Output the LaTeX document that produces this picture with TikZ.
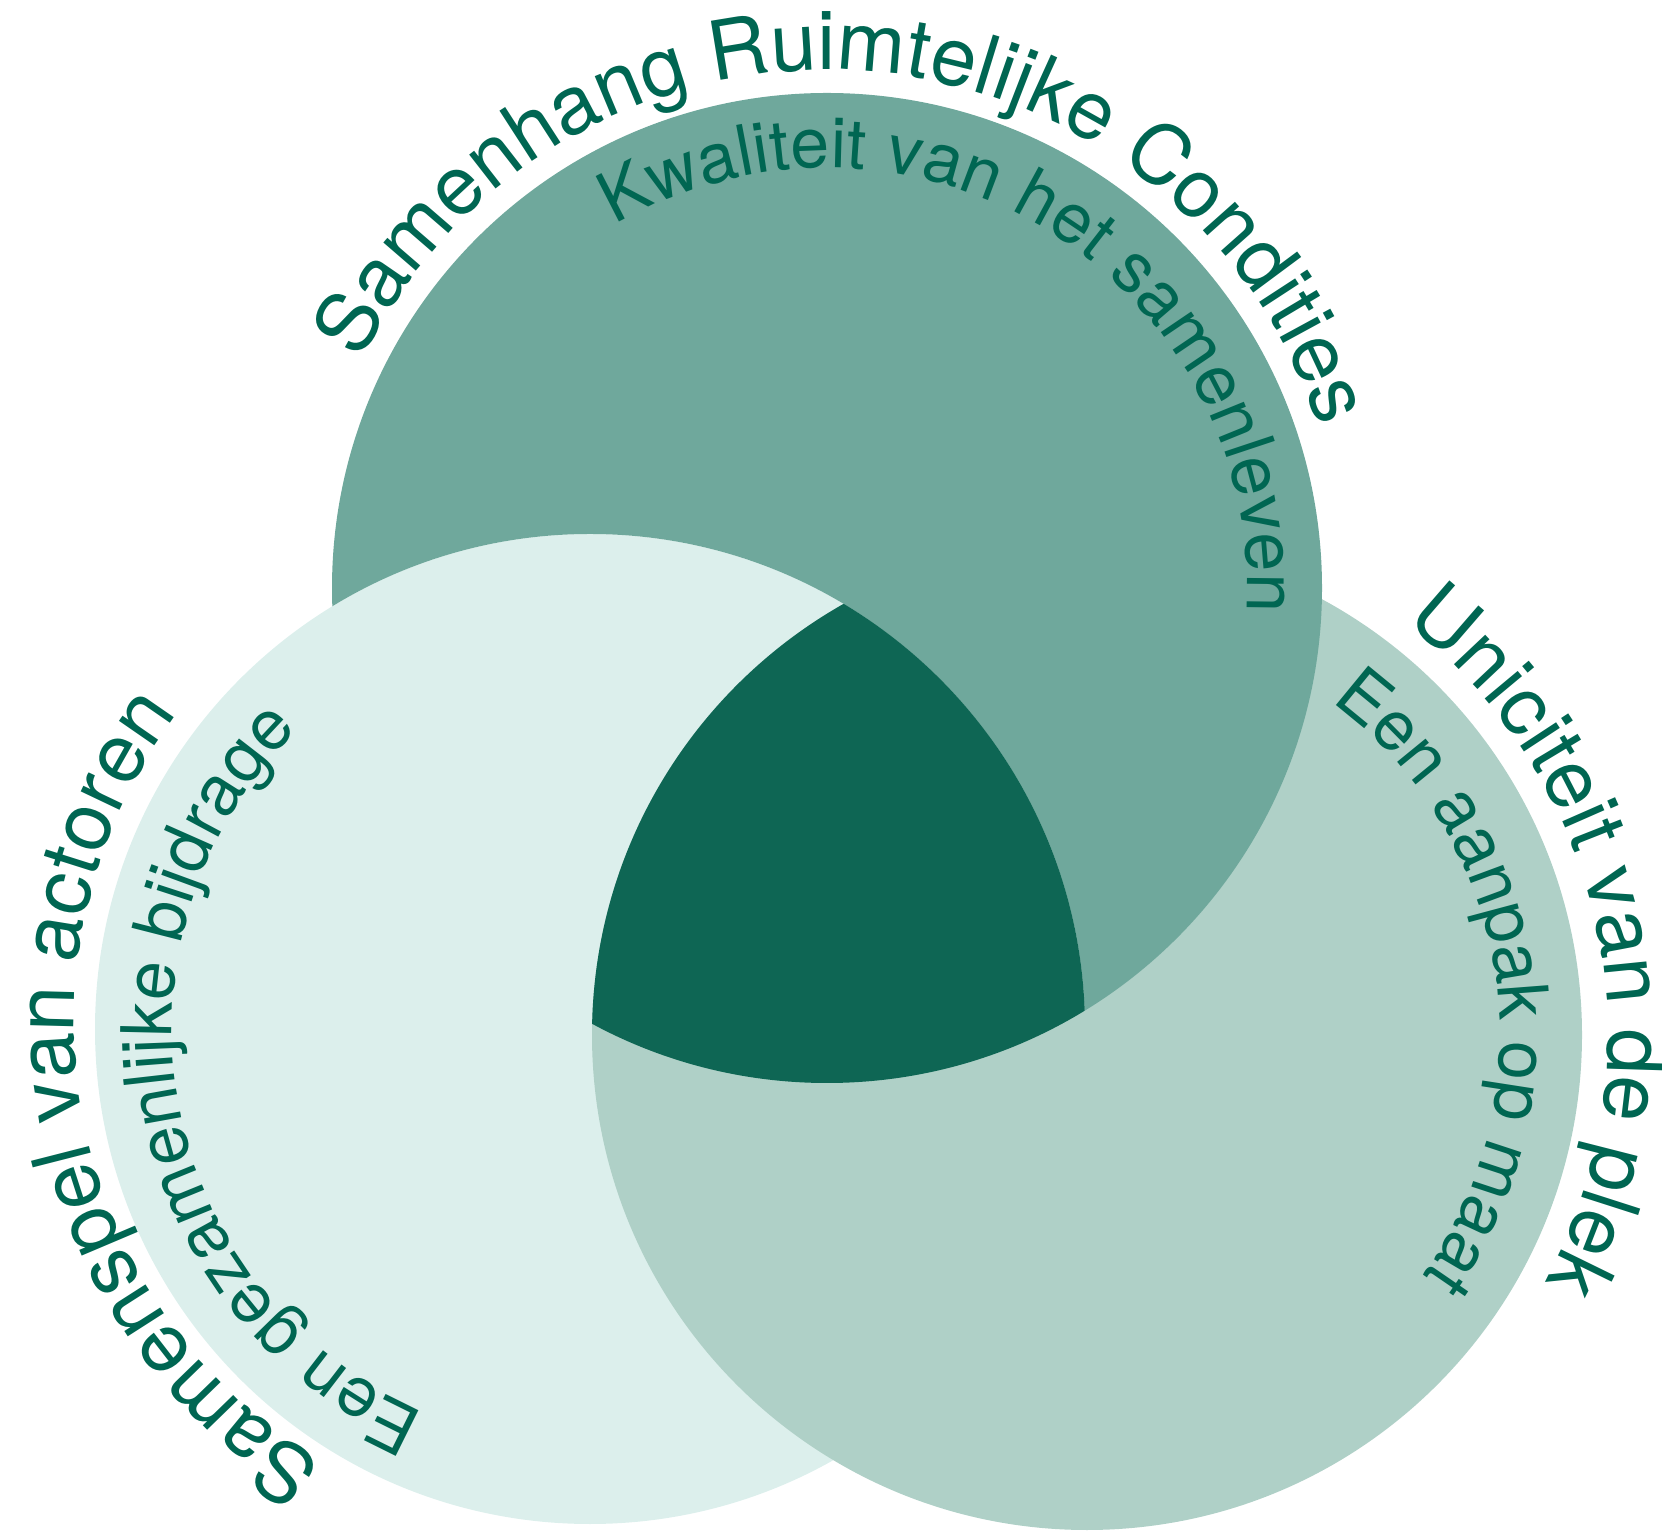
\documentclass[tikz,border=0pt]{standalone}
\usepackage{fontspec}
\setmainfont{TeX Gyre Heros}
\usetikzlibrary{decorations.text}
\definecolor{cT}{HTML}{6FA89C}
\definecolor{cL}{HTML}{DCEFEC}
\definecolor{cR}{HTML}{AFD0C7}
\definecolor{cD}{HTML}{0E6654}
\definecolor{ink}{HTML}{006652}
\newcommand\outerfnt{\fontsize{82}{94}\selectfont}
\newcommand\innerfnt{\fontsize{70}{82}\selectfont}
% #1 centre, #2 baseline radius, #3 middle angle, #4 font, #5 text
\newcommand\arctext[5]{%
  \path[decorate, decoration={text along path, text align=center,
    text color=ink, text={|#4|#5}}]
    (#1) ++(#3+100:#2) arc[start angle=#3+100, end angle=#3-100, radius=#2];}
\begin{document}
\begin{tikzpicture}[x=1pt,y=1pt]
\useasboundingbox (0,0) rectangle (1662,1537);
\coordinate (T) at (827,949);
\coordinate (L) at (590,508);
\coordinate (R) at (1087,502);
\coordinate (Lt) at (586,514);
\def\rr{495}
\fill[cL] (L) circle (\rr);
\fill[cR] (R) circle (\rr);
% top circle, painted only outside the left circle
\begin{scope}
  \clip (L) ++(0:\rr) arc[start angle=0, end angle=360, radius=\rr]
        (-200,-200) -- (-200,1800) -- (1900,1800) -- (1900,-200) -- cycle;
  \fill[cT] (T) circle (\rr);
\end{scope}
% common part of the three circles
\begin{scope}
  \clip (T) circle (\rr);
  \clip (L) circle (\rr);
  \fill[cD] (R) circle (\rr);
\end{scope}
\arctext{T}{518}{86}{\outerfnt}{Samenhang Ruimtelijke Condities}
\arctext{T}{420}{58.5}{\innerfnt}{Kwaliteit van het samenleven}
\arctext{Lt}{512}{191}{\outerfnt}{Samenspel van actoren}
\arctext{L}{418}{190.5}{\innerfnt}{Een gezamenlijke bijdrage}
\arctext{R}{521}{12}{\outerfnt}{Uniciteit van de plek}
\arctext{R}{413}{9}{\innerfnt}{Een aanpak op maat}
\end{tikzpicture}
\end{document}
